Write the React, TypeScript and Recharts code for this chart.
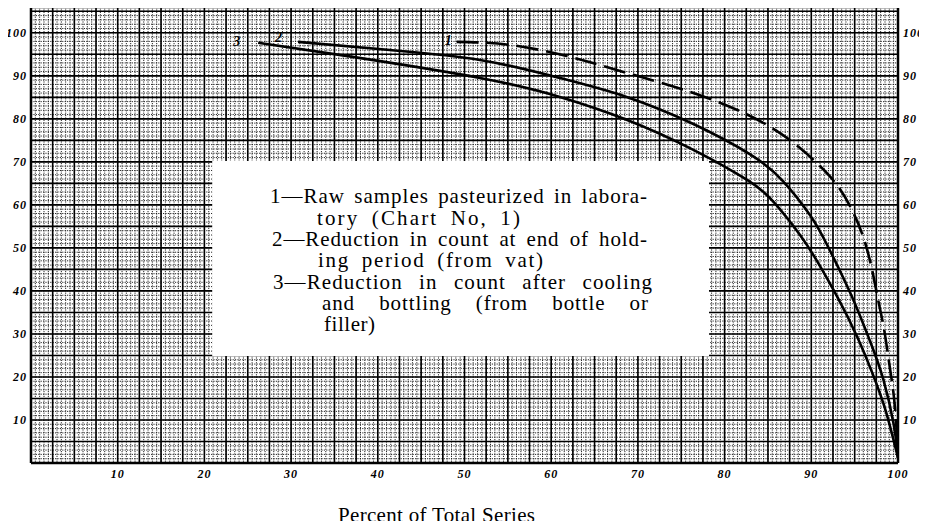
import React from "react";
import { LineChart, Line, XAxis, YAxis, CartesianGrid, ReferenceArea } from "recharts";

// tick labels
const xTicks = [10, 20, 30, 40, 50, 60, 70, 80, 90, 100];
const yTicks = [10, 20, 30, 40, 50, 60, 70, 80, 90, 100];

// 1 - raw samples pasteurized in laboratory (dashed)
const curve1 = [
  { x: 49.1, y: 97.9 },
  { x: 55.2, y: 97.2 },
  { x: 62.2, y: 94.4 },
  { x: 68.7, y: 90.7 },
  { x: 76.4, y: 86.0 },
  { x: 82.6, y: 81.0 },
  { x: 86.0, y: 77.2 },
  { x: 88.7, y: 73.2 },
  { x: 92.2, y: 66.5 },
  { x: 94.5, y: 59.6 },
  { x: 96.0, y: 52.5 },
  { x: 97.0, y: 45.0 },
  { x: 97.7, y: 38.0 },
  { x: 98.4, y: 31.0 },
  { x: 99.0, y: 23.0 },
  { x: 99.6, y: 14.0 },
  { x: 100, y: 2 },
];

// 2 - end of holding period (from vat)
const curve2 = [
  { x: 30.8, y: 97.9 },
  { x: 41.4, y: 96.0 },
  { x: 51.8, y: 93.7 },
  { x: 61.0, y: 89.5 },
  { x: 68.7, y: 85.1 },
  { x: 76.4, y: 78.8 },
  { x: 82.9, y: 71.8 },
  { x: 86.7, y: 65.6 },
  { x: 89.9, y: 57.5 },
  { x: 91.8, y: 50.8 },
  { x: 94.5, y: 39.5 },
  { x: 96.8, y: 28.2 },
  { x: 98.3, y: 19.5 },
  { x: 99.5, y: 9.0 },
  { x: 100, y: 1.2 },
];

// 3 - after cooling and bottling
const curve3 = [
  { x: 26.2, y: 97.7 },
  { x: 37.1, y: 94.4 },
  { x: 51.8, y: 89.5 },
  { x: 61.0, y: 85.1 },
  { x: 68.7, y: 79.8 },
  { x: 76.4, y: 72.8 },
  { x: 82.6, y: 65.8 },
  { x: 85.6, y: 60.8 },
  { x: 88.7, y: 53.0 },
  { x: 90.7, y: 46.8 },
  { x: 93.0, y: 38.6 },
  { x: 95.3, y: 29.3 },
  { x: 97.1, y: 20.6 },
  { x: 98.6, y: 12.0 },
  { x: 100, y: 1.2 },
];

const legendLines = [
  "1—Raw samples pasteurized in labora-",
  "tory (Chart No, 1)",
  "2—Reduction in count at end of hold-",
  "ing period (from vat)",
  "3—Reduction in count after cooling",
  "and bottling (from bottle or",
  "filler)",
];

// where each legend line sits in the box (left, baseline, width, word spacing)
const legendLayout = [
  { x: 270, y: 203, w: 377, ws: 3 },
  { x: 317, y: 224.5, w: 203, ws: 5 },
  { x: 272, y: 246, w: 375, ws: 4 },
  { x: 318, y: 267, w: 225, ws: 5 },
  { x: 273, y: 288.5, w: 379, ws: 10 },
  { x: 322, y: 310, w: 326, ws: 18 },
  { x: 324, y: 331, w: 51, ws: 0 },
];

const steps = (step: number, max: number) => {
  const out: number[] = [];
  for (let v = 0; v <= max + 1e-9; v += step) out.push(+v.toFixed(2));
  return out;
};

const tickStyle = {
  fill: "#000",
  fontSize: 12,
  fontStyle: "italic",
  fontWeight: "bold",
  fontFamily: "Liberation Serif",
  letterSpacing: 1,
};

const curveTag = (tag: string, dx: number, dy: number) => (p: any) =>
  p.index === 0 ? (
    <text
      key={tag}
      x={p.x + dx}
      y={p.y + dy}
      fontSize={14}
      fontWeight="bold"
      fontStyle="italic"
      fontFamily="Liberation Serif"
      fill="#000"
    >
      {tag}
    </text>
  ) : (
    <g key={tag + p.index} />
  );

export default function App() {
  return (
    <div style={{ position: "relative", width: 927, height: 529, margin: -8, background: "#fff" }}>
      <LineChart width={927} height={529} margin={{ top: 7, right: 0, bottom: 36, left: 0 }}>
        {/* graph paper: fine, coarse, border */}
        <CartesianGrid
          horizontalValues={steps(1, 106)}
          verticalValues={steps(0.5, 100)}
          stroke="#111"
          strokeWidth={0.9}
          strokeDasharray="1.2 1.2"
        />
        <CartesianGrid
          horizontalValues={steps(5, 105)}
          verticalValues={steps(2.5, 100)}
          stroke="#000"
          strokeWidth={1.6}
        />
        <CartesianGrid horizontalValues={[0, 106]} verticalValues={[0, 100]} stroke="#000" strokeWidth={2.5} />
        <XAxis
          type="number"
          dataKey="x"
          domain={[0, 100]}
          ticks={xTicks}
          interval={0}
          height={30}
          axisLine={false}
          tickLine={false}
          tickSize={0}
          tickMargin={6}
          tick={tickStyle}
          allowDataOverflow
        />
        <YAxis
          type="number"
          domain={[0, 106]}
          ticks={yTicks}
          interval={0}
          width={31}
          axisLine={false}
          tickLine={false}
          tickSize={0}
          tickMargin={4}
          tick={tickStyle}
          allowDataOverflow
        />
        <YAxis
          yAxisId="r"
          orientation="right"
          type="number"
          domain={[0, 106]}
          ticks={yTicks}
          interval={0}
          width={29}
          axisLine={false}
          tickLine={false}
          tickSize={0}
          tickMargin={5}
          tick={tickStyle}
          allowDataOverflow
        />
        <ReferenceArea x1={20.9} x2={78.2} y1={24.9} y2={70.2} fill="#fff" fillOpacity={1} stroke="none" />
        <Line
          data={curve1}
          dataKey="y"
          type="natural"
          stroke="#000"
          strokeWidth={2.6}
          strokeDasharray="22 8"
          dot={false}
          isAnimationActive={false}
          label={curveTag("1", -12, 3)}
        />
        <Line
          data={curve2}
          dataKey="y"
          type="natural"
          stroke="#000"
          strokeWidth={2.6}
          dot={false}
          isAnimationActive={false}
          label={curveTag("2", -23, 0)}
        />
        <Line
          data={curve3}
          dataKey="y"
          type="natural"
          stroke="#000"
          strokeWidth={2.6}
          dot={false}
          isAnimationActive={false}
          label={curveTag("3", -25, 3)}
        />
      </LineChart>
      <svg width={927} height={529} style={{ position: "absolute", left: 0, top: 0, pointerEvents: "none" }}>
        {legendLines.map((t, i) => (
          <text
            key={i}
            x={legendLayout[i].x}
            y={legendLayout[i].y}
            textLength={legendLayout[i].w}
            lengthAdjust="spacing"
            fontFamily="Liberation Serif"
            fontSize={21}
            fill="#000"
            style={{ wordSpacing: legendLayout[i].ws }}
          >
            {t}
          </text>
        ))}
        <text
          x={338}
          y={522}
          textLength={197}
          lengthAdjust="spacing"
          fontFamily="Liberation Serif"
          fontSize={21}
          fill="#000"
        >
          Percent of Total Series
        </text>
      </svg>
    </div>
  );
}
